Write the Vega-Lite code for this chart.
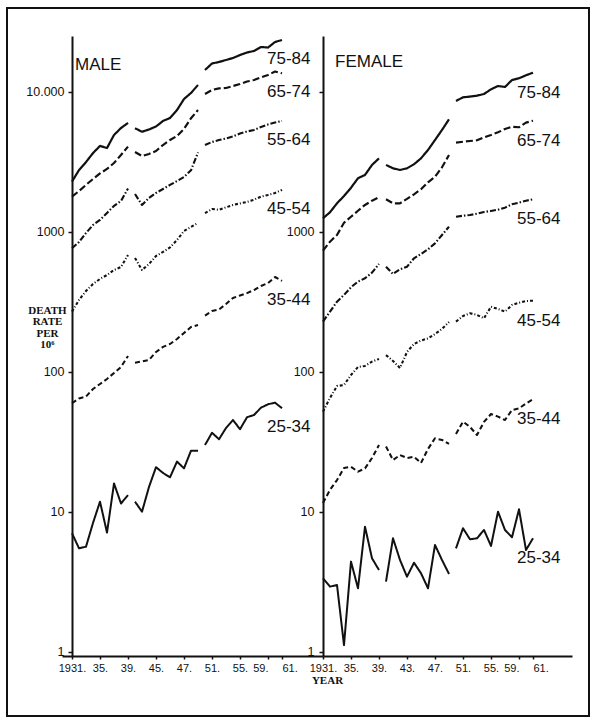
{
"$schema":"https://vega.github.io/schema/vega-lite/v6.json",
"padding":{"left":6,"top":7,"right":0,"bottom":0},
"autosize":{"type":"pad"},
"background":"white",
"spacing":0,
"bounds":"flush",
"config":{"view":{"stroke":null},"font":"Liberation Sans","axis":{"grid":false,"domainColor":"#111","domainWidth":2,"tickColor":"#111","tickWidth":1.5,"labelColor":"#111","labelFont":"Liberation Sans","titleColor":"#111"}},
"datasets":{"d":[
{"sex":"M","age":"75-84","year":1931,"per":1,"rate":2290},{"sex":"M","age":"75-84","year":1932,"per":1,"rate":2770},{"sex":"M","age":"75-84","year":1933,"per":1,"rate":3160},{"sex":"M","age":"75-84","year":1934,"per":1,"rate":3660},{"sex":"M","age":"75-84","year":1935,"per":1,"rate":4120},{"sex":"M","age":"75-84","year":1936,"per":1,"rate":3980},{"sex":"M","age":"75-84","year":1937,"per":1,"rate":4930},{"sex":"M","age":"75-84","year":1938,"per":1,"rate":5530},{"sex":"M","age":"75-84","year":1939,"per":1,"rate":6010},
{"sex":"M","age":"75-84","year":1940,"per":2,"rate":5510},{"sex":"M","age":"75-84","year":1941,"per":2,"rate":5200},{"sex":"M","age":"75-84","year":1942,"per":2,"rate":5400},{"sex":"M","age":"75-84","year":1943,"per":2,"rate":5670},{"sex":"M","age":"75-84","year":1944,"per":2,"rate":6210},{"sex":"M","age":"75-84","year":1945,"per":2,"rate":6520},{"sex":"M","age":"75-84","year":1946,"per":2,"rate":7430},{"sex":"M","age":"75-84","year":1947,"per":2,"rate":8910},{"sex":"M","age":"75-84","year":1948,"per":2,"rate":9840},{"sex":"M","age":"75-84","year":1949,"per":2,"rate":11220},
{"sex":"M","age":"75-84","year":1950,"per":3,"rate":14360},{"sex":"M","age":"75-84","year":1951,"per":3,"rate":15990},{"sex":"M","age":"75-84","year":1952,"per":3,"rate":16380},{"sex":"M","age":"75-84","year":1953,"per":3,"rate":16930},{"sex":"M","age":"75-84","year":1954,"per":3,"rate":17500},{"sex":"M","age":"75-84","year":1955,"per":3,"rate":18370},{"sex":"M","age":"75-84","year":1956,"per":3,"rate":19140},{"sex":"M","age":"75-84","year":1957,"per":3,"rate":19640},{"sex":"M","age":"75-84","year":1958,"per":3,"rate":20960},{"sex":"M","age":"75-84","year":1959,"per":3,"rate":20780},{"sex":"M","age":"75-84","year":1960,"per":3,"rate":22760},{"sex":"M","age":"75-84","year":1961,"per":3,"rate":23510},
{"sex":"M","age":"65-74","year":1931,"per":1,"rate":1790},{"sex":"M","age":"65-74","year":1932,"per":1,"rate":1960},{"sex":"M","age":"65-74","year":1933,"per":1,"rate":2170},{"sex":"M","age":"65-74","year":1934,"per":1,"rate":2390},{"sex":"M","age":"65-74","year":1935,"per":1,"rate":2620},{"sex":"M","age":"65-74","year":1936,"per":1,"rate":2820},{"sex":"M","age":"65-74","year":1937,"per":1,"rate":3110},{"sex":"M","age":"65-74","year":1938,"per":1,"rate":3550},{"sex":"M","age":"65-74","year":1939,"per":1,"rate":4070},
{"sex":"M","age":"65-74","year":1940,"per":2,"rate":3730},{"sex":"M","age":"65-74","year":1941,"per":2,"rate":3490},{"sex":"M","age":"65-74","year":1942,"per":2,"rate":3610},{"sex":"M","age":"65-74","year":1943,"per":2,"rate":3790},{"sex":"M","age":"65-74","year":1944,"per":2,"rate":4180},{"sex":"M","age":"65-74","year":1945,"per":2,"rate":4540},{"sex":"M","age":"65-74","year":1946,"per":2,"rate":4850},{"sex":"M","age":"65-74","year":1947,"per":2,"rate":5450},{"sex":"M","age":"65-74","year":1948,"per":2,"rate":6500},{"sex":"M","age":"65-74","year":1949,"per":2,"rate":7430},
{"sex":"M","age":"65-74","year":1950,"per":3,"rate":9680},{"sex":"M","age":"65-74","year":1951,"per":3,"rate":10330},{"sex":"M","age":"65-74","year":1952,"per":3,"rate":10620},{"sex":"M","age":"65-74","year":1953,"per":3,"rate":10680},{"sex":"M","age":"65-74","year":1954,"per":3,"rate":11040},{"sex":"M","age":"65-74","year":1955,"per":3,"rate":11400},{"sex":"M","age":"65-74","year":1956,"per":3,"rate":11880},{"sex":"M","age":"65-74","year":1957,"per":3,"rate":12180},{"sex":"M","age":"65-74","year":1958,"per":3,"rate":12700},{"sex":"M","age":"65-74","year":1959,"per":3,"rate":13220},{"sex":"M","age":"65-74","year":1960,"per":3,"rate":14010},{"sex":"M","age":"65-74","year":1961,"per":3,"rate":13610},
{"sex":"M","age":"55-64","year":1931,"per":1,"rate":765},{"sex":"M","age":"55-64","year":1932,"per":1,"rate":848},{"sex":"M","age":"55-64","year":1933,"per":1,"rate":984},{"sex":"M","age":"55-64","year":1934,"per":1,"rate":1122},{"sex":"M","age":"55-64","year":1935,"per":1,"rate":1219},{"sex":"M","age":"55-64","year":1936,"per":1,"rate":1368},{"sex":"M","age":"55-64","year":1937,"per":1,"rate":1535},{"sex":"M","age":"55-64","year":1938,"per":1,"rate":1664},{"sex":"M","age":"55-64","year":1939,"per":1,"rate":2046},
{"sex":"M","age":"55-64","year":1940,"per":2,"rate":1868},{"sex":"M","age":"55-64","year":1941,"per":2,"rate":1560},{"sex":"M","age":"55-64","year":1942,"per":2,"rate":1750},{"sex":"M","age":"55-64","year":1943,"per":2,"rate":1900},{"sex":"M","age":"55-64","year":1944,"per":2,"rate":2028},{"sex":"M","age":"55-64","year":1945,"per":2,"rate":2168},{"sex":"M","age":"55-64","year":1946,"per":2,"rate":2313},{"sex":"M","age":"55-64","year":1947,"per":2,"rate":2471},{"sex":"M","age":"55-64","year":1948,"per":2,"rate":2760},{"sex":"M","age":"55-64","year":1949,"per":2,"rate":3700},
{"sex":"M","age":"55-64","year":1950,"per":3,"rate":4180},{"sex":"M","age":"55-64","year":1951,"per":3,"rate":4395},{"sex":"M","age":"55-64","year":1952,"per":3,"rate":4539},{"sex":"M","age":"55-64","year":1953,"per":3,"rate":4656},{"sex":"M","age":"55-64","year":1954,"per":3,"rate":4810},{"sex":"M","age":"55-64","year":1955,"per":3,"rate":5054},{"sex":"M","age":"55-64","year":1956,"per":3,"rate":5226},{"sex":"M","age":"55-64","year":1957,"per":3,"rate":5354},{"sex":"M","age":"55-64","year":1958,"per":3,"rate":5623},{"sex":"M","age":"55-64","year":1959,"per":3,"rate":5861},{"sex":"M","age":"55-64","year":1960,"per":3,"rate":6053},{"sex":"M","age":"55-64","year":1961,"per":3,"rate":6209},
{"sex":"M","age":"45-54","year":1931,"per":1,"rate":270},{"sex":"M","age":"45-54","year":1932,"per":1,"rate":327},{"sex":"M","age":"45-54","year":1933,"per":1,"rate":379},{"sex":"M","age":"45-54","year":1934,"per":1,"rate":425},{"sex":"M","age":"45-54","year":1935,"per":1,"rate":462},{"sex":"M","age":"45-54","year":1936,"per":1,"rate":493},{"sex":"M","age":"45-54","year":1937,"per":1,"rate":535},{"sex":"M","age":"45-54","year":1938,"per":1,"rate":562},{"sex":"M","age":"45-54","year":1939,"per":1,"rate":685},
{"sex":"M","age":"45-54","year":1940,"per":2,"rate":652},{"sex":"M","age":"45-54","year":1941,"per":2,"rate":535},{"sex":"M","age":"45-54","year":1942,"per":2,"rate":591},{"sex":"M","age":"45-54","year":1943,"per":2,"rate":674},{"sex":"M","age":"45-54","year":1944,"per":2,"rate":720},{"sex":"M","age":"45-54","year":1945,"per":2,"rate":775},{"sex":"M","age":"45-54","year":1946,"per":2,"rate":877},{"sex":"M","age":"45-54","year":1947,"per":2,"rate":1016},{"sex":"M","age":"45-54","year":1948,"per":2,"rate":1086},{"sex":"M","age":"45-54","year":1949,"per":2,"rate":1159},
{"sex":"M","age":"45-54","year":1950,"per":3,"rate":1365},{"sex":"M","age":"45-54","year":1951,"per":3,"rate":1460},{"sex":"M","age":"45-54","year":1952,"per":3,"rate":1440},{"sex":"M","age":"45-54","year":1953,"per":3,"rate":1500},{"sex":"M","age":"45-54","year":1954,"per":3,"rate":1560},{"sex":"M","age":"45-54","year":1955,"per":3,"rate":1600},{"sex":"M","age":"45-54","year":1956,"per":3,"rate":1640},{"sex":"M","age":"45-54","year":1957,"per":3,"rate":1700},{"sex":"M","age":"45-54","year":1958,"per":3,"rate":1790},{"sex":"M","age":"45-54","year":1959,"per":3,"rate":1840},{"sex":"M","age":"45-54","year":1960,"per":3,"rate":1900},{"sex":"M","age":"45-54","year":1961,"per":3,"rate":2000},
{"sex":"M","age":"35-44","year":1931,"per":1,"rate":59.8},{"sex":"M","age":"35-44","year":1932,"per":1,"rate":64.7},{"sex":"M","age":"35-44","year":1933,"per":1,"rate":66.8},{"sex":"M","age":"35-44","year":1934,"per":1,"rate":75.6},{"sex":"M","age":"35-44","year":1935,"per":1,"rate":82.1},{"sex":"M","age":"35-44","year":1936,"per":1,"rate":89.1},{"sex":"M","age":"35-44","year":1937,"per":1,"rate":98.4},{"sex":"M","age":"35-44","year":1938,"per":1,"rate":108.6},{"sex":"M","age":"35-44","year":1939,"per":1,"rate":130},
{"sex":"M","age":"35-44","year":1940,"per":2,"rate":116.5},{"sex":"M","age":"35-44","year":1941,"per":2,"rate":118.8},{"sex":"M","age":"35-44","year":1942,"per":2,"rate":121.9},{"sex":"M","age":"35-44","year":1943,"per":2,"rate":139},{"sex":"M","age":"35-44","year":1944,"per":2,"rate":151},{"sex":"M","age":"35-44","year":1945,"per":2,"rate":158.5},{"sex":"M","age":"35-44","year":1946,"per":2,"rate":172},{"sex":"M","age":"35-44","year":1947,"per":2,"rate":190},{"sex":"M","age":"35-44","year":1948,"per":2,"rate":209.6},{"sex":"M","age":"35-44","year":1949,"per":2,"rate":216.6},
{"sex":"M","age":"35-44","year":1950,"per":3,"rate":253},{"sex":"M","age":"35-44","year":1951,"per":3,"rate":273},{"sex":"M","age":"35-44","year":1952,"per":3,"rate":279.5},{"sex":"M","age":"35-44","year":1953,"per":3,"rate":306},{"sex":"M","age":"35-44","year":1954,"per":3,"rate":338},{"sex":"M","age":"35-44","year":1955,"per":3,"rate":352},{"sex":"M","age":"35-44","year":1956,"per":3,"rate":366},{"sex":"M","age":"35-44","year":1957,"per":3,"rate":385},{"sex":"M","age":"35-44","year":1958,"per":3,"rate":411},{"sex":"M","age":"35-44","year":1959,"per":3,"rate":432},{"sex":"M","age":"35-44","year":1960,"per":3,"rate":477},{"sex":"M","age":"35-44","year":1961,"per":3,"rate":447},
{"sex":"M","age":"25-34","year":1931,"per":1,"rate":7.05},{"sex":"M","age":"25-34","year":1932,"per":1,"rate":5.5},{"sex":"M","age":"25-34","year":1933,"per":1,"rate":5.65},{"sex":"M","age":"25-34","year":1934,"per":1,"rate":8.35},{"sex":"M","age":"25-34","year":1935,"per":1,"rate":11.85},{"sex":"M","age":"25-34","year":1936,"per":1,"rate":7.12},{"sex":"M","age":"25-34","year":1937,"per":1,"rate":16.0},{"sex":"M","age":"25-34","year":1938,"per":1,"rate":11.5},{"sex":"M","age":"25-34","year":1939,"per":1,"rate":13.2},
{"sex":"M","age":"25-34","year":1940,"per":2,"rate":11.85},{"sex":"M","age":"25-34","year":1941,"per":2,"rate":10.05},{"sex":"M","age":"25-34","year":1942,"per":2,"rate":15.1},{"sex":"M","age":"25-34","year":1943,"per":2,"rate":20.9},{"sex":"M","age":"25-34","year":1944,"per":2,"rate":19.0},{"sex":"M","age":"25-34","year":1945,"per":2,"rate":17.7},{"sex":"M","age":"25-34","year":1946,"per":2,"rate":22.9},{"sex":"M","age":"25-34","year":1947,"per":2,"rate":20.5},{"sex":"M","age":"25-34","year":1948,"per":2,"rate":27.4},{"sex":"M","age":"25-34","year":1949,"per":2,"rate":27.4},
{"sex":"M","age":"25-34","year":1950,"per":3,"rate":30.1},{"sex":"M","age":"25-34","year":1951,"per":3,"rate":36.8},{"sex":"M","age":"25-34","year":1952,"per":3,"rate":33.1},{"sex":"M","age":"25-34","year":1953,"per":3,"rate":39.8},{"sex":"M","age":"25-34","year":1954,"per":3,"rate":45.4},{"sex":"M","age":"25-34","year":1955,"per":3,"rate":39.0},{"sex":"M","age":"25-34","year":1956,"per":3,"rate":47.5},{"sex":"M","age":"25-34","year":1957,"per":3,"rate":49.3},{"sex":"M","age":"25-34","year":1958,"per":3,"rate":55.6},{"sex":"M","age":"25-34","year":1959,"per":3,"rate":58.8},{"sex":"M","age":"25-34","year":1960,"per":3,"rate":60.4},{"sex":"M","age":"25-34","year":1961,"per":3,"rate":55.1},
{"sex":"F","age":"75-84","year":1931,"per":1,"rate":1253},{"sex":"F","age":"75-84","year":1932,"per":1,"rate":1383},{"sex":"F","age":"75-84","year":1933,"per":1,"rate":1603},{"sex":"F","age":"75-84","year":1934,"per":1,"rate":1807},{"sex":"F","age":"75-84","year":1935,"per":1,"rate":2070},{"sex":"F","age":"75-84","year":1936,"per":1,"rate":2421},{"sex":"F","age":"75-84","year":1937,"per":1,"rate":2555},{"sex":"F","age":"75-84","year":1938,"per":1,"rate":3013},{"sex":"F","age":"75-84","year":1939,"per":1,"rate":3358},
{"sex":"F","age":"75-84","year":1940,"per":2,"rate":3013},{"sex":"F","age":"75-84","year":1941,"per":2,"rate":2851},{"sex":"F","age":"75-84","year":1942,"per":2,"rate":2773},{"sex":"F","age":"75-84","year":1943,"per":2,"rate":2851},{"sex":"F","age":"75-84","year":1944,"per":2,"rate":3047},{"sex":"F","age":"75-84","year":1945,"per":2,"rate":3358},{"sex":"F","age":"75-84","year":1946,"per":2,"rate":3853},{"sex":"F","age":"75-84","year":1947,"per":2,"rate":4539},{"sex":"F","age":"75-84","year":1948,"per":2,"rate":5354},{"sex":"F","age":"75-84","year":1949,"per":2,"rate":6383},
{"sex":"F","age":"75-84","year":1950,"per":3,"rate":8630},{"sex":"F","age":"75-84","year":1951,"per":3,"rate":9165},{"sex":"F","age":"75-84","year":1952,"per":3,"rate":9270},{"sex":"F","age":"75-84","year":1953,"per":3,"rate":9415},{"sex":"F","age":"75-84","year":1954,"per":3,"rate":9680},{"sex":"F","age":"75-84","year":1955,"per":3,"rate":10450},{"sex":"F","age":"75-84","year":1956,"per":3,"rate":11040},{"sex":"F","age":"75-84","year":1957,"per":3,"rate":10860},{"sex":"F","age":"75-84","year":1958,"per":3,"rate":12180},{"sex":"F","age":"75-84","year":1959,"per":3,"rate":12530},{"sex":"F","age":"75-84","year":1960,"per":3,"rate":13160},{"sex":"F","age":"75-84","year":1961,"per":3,"rate":13740},
{"sex":"F","age":"65-74","year":1931,"per":1,"rate":735},{"sex":"F","age":"65-74","year":1932,"per":1,"rate":853},{"sex":"F","age":"65-74","year":1933,"per":1,"rate":952},{"sex":"F","age":"65-74","year":1934,"per":1,"rate":1164},{"sex":"F","age":"65-74","year":1935,"per":1,"rate":1285},{"sex":"F","age":"65-74","year":1936,"per":1,"rate":1419},{"sex":"F","age":"65-74","year":1937,"per":1,"rate":1560},{"sex":"F","age":"65-74","year":1938,"per":1,"rate":1674},{"sex":"F","age":"65-74","year":1939,"per":1,"rate":1770},
{"sex":"F","age":"65-74","year":1940,"per":2,"rate":1713},{"sex":"F","age":"65-74","year":1941,"per":2,"rate":1603},{"sex":"F","age":"65-74","year":1942,"per":2,"rate":1603},{"sex":"F","age":"65-74","year":1943,"per":2,"rate":1722},{"sex":"F","age":"65-74","year":1944,"per":2,"rate":1858},{"sex":"F","age":"65-74","year":1945,"per":2,"rate":2018},{"sex":"F","age":"65-74","year":1946,"per":2,"rate":2264},{"sex":"F","age":"65-74","year":1947,"per":2,"rate":2483},{"sex":"F","age":"65-74","year":1948,"per":2,"rate":2897},{"sex":"F","age":"65-74","year":1949,"per":2,"rate":3548},
{"sex":"F","age":"65-74","year":1950,"per":3,"rate":4345},{"sex":"F","age":"65-74","year":1951,"per":3,"rate":4416},{"sex":"F","age":"65-74","year":1952,"per":3,"rate":4467},{"sex":"F","age":"65-74","year":1953,"per":3,"rate":4519},{"sex":"F","age":"65-74","year":1954,"per":3,"rate":4746},{"sex":"F","age":"65-74","year":1955,"per":3,"rate":4931},{"sex":"F","age":"65-74","year":1956,"per":3,"rate":5152},{"sex":"F","age":"65-74","year":1957,"per":3,"rate":5445},{"sex":"F","age":"65-74","year":1958,"per":3,"rate":5649},{"sex":"F","age":"65-74","year":1959,"per":3,"rate":5596},{"sex":"F","age":"65-74","year":1960,"per":3,"rate":6040},{"sex":"F","age":"65-74","year":1961,"per":3,"rate":6237},
{"sex":"F","age":"55-64","year":1931,"per":1,"rate":229},{"sex":"F","age":"55-64","year":1932,"per":1,"rate":270},{"sex":"F","age":"55-64","year":1933,"per":1,"rate":318},{"sex":"F","age":"55-64","year":1934,"per":1,"rate":355},{"sex":"F","age":"55-64","year":1935,"per":1,"rate":403},{"sex":"F","age":"55-64","year":1936,"per":1,"rate":442},{"sex":"F","age":"55-64","year":1937,"per":1,"rate":467},{"sex":"F","age":"55-64","year":1938,"per":1,"rate":512},{"sex":"F","age":"55-64","year":1939,"per":1,"rate":591},
{"sex":"F","age":"55-64","year":1940,"per":2,"rate":565},{"sex":"F","age":"55-64","year":1941,"per":2,"rate":501},{"sex":"F","age":"55-64","year":1942,"per":2,"rate":542},{"sex":"F","age":"55-64","year":1943,"per":2,"rate":565},{"sex":"F","age":"55-64","year":1944,"per":2,"rate":649},{"sex":"F","age":"55-64","year":1945,"per":2,"rate":697},{"sex":"F","age":"55-64","year":1946,"per":2,"rate":752},{"sex":"F","age":"55-64","year":1947,"per":2,"rate":830},{"sex":"F","age":"55-64","year":1948,"per":2,"rate":952},{"sex":"F","age":"55-64","year":1949,"per":2,"rate":1091},
{"sex":"F","age":"55-64","year":1950,"per":3,"rate":1285},{"sex":"F","age":"55-64","year":1951,"per":3,"rate":1306},{"sex":"F","age":"55-64","year":1952,"per":3,"rate":1322},{"sex":"F","age":"55-64","year":1953,"per":3,"rate":1352},{"sex":"F","age":"55-64","year":1954,"per":3,"rate":1390},{"sex":"F","age":"55-64","year":1955,"per":3,"rate":1413},{"sex":"F","age":"55-64","year":1956,"per":3,"rate":1443},{"sex":"F","age":"55-64","year":1957,"per":3,"rate":1492},{"sex":"F","age":"55-64","year":1958,"per":3,"rate":1578},{"sex":"F","age":"55-64","year":1959,"per":3,"rate":1620},{"sex":"F","age":"55-64","year":1960,"per":3,"rate":1674},{"sex":"F","age":"55-64","year":1961,"per":3,"rate":1713},
{"sex":"F","age":"45-54","year":1931,"per":1,"rate":52.1},{"sex":"F","age":"45-54","year":1932,"per":1,"rate":65.2},{"sex":"F","age":"45-54","year":1933,"per":1,"rate":79.4},{"sex":"F","age":"45-54","year":1934,"per":1,"rate":80.7},{"sex":"F","age":"45-54","year":1935,"per":1,"rate":95.2},{"sex":"F","age":"45-54","year":1936,"per":1,"rate":108.6},{"sex":"F","age":"45-54","year":1937,"per":1,"rate":110.4},{"sex":"F","age":"45-54","year":1938,"per":1,"rate":118.6},{"sex":"F","age":"45-54","year":1939,"per":1,"rate":124},
{"sex":"F","age":"45-54","year":1940,"per":2,"rate":132},{"sex":"F","age":"45-54","year":1941,"per":2,"rate":119.9},{"sex":"F","age":"45-54","year":1942,"per":2,"rate":106.9},{"sex":"F","age":"45-54","year":1943,"per":2,"rate":139},{"sex":"F","age":"45-54","year":1944,"per":2,"rate":158.5},{"sex":"F","age":"45-54","year":1945,"per":2,"rate":168},{"sex":"F","age":"45-54","year":1946,"per":2,"rate":173.5},{"sex":"F","age":"45-54","year":1947,"per":2,"rate":186.8},{"sex":"F","age":"45-54","year":1948,"per":2,"rate":203},{"sex":"F","age":"45-54","year":1949,"per":2,"rate":227.6},
{"sex":"F","age":"45-54","year":1950,"per":3,"rate":228.8},{"sex":"F","age":"45-54","year":1951,"per":3,"rate":251},{"sex":"F","age":"45-54","year":1952,"per":3,"rate":262.6},{"sex":"F","age":"45-54","year":1953,"per":3,"rate":255.3},{"sex":"F","age":"45-54","year":1954,"per":3,"rate":242},{"sex":"F","age":"45-54","year":1955,"per":3,"rate":292.7},{"sex":"F","age":"45-54","year":1956,"per":3,"rate":281.8},{"sex":"F","age":"45-54","year":1957,"per":3,"rate":269.8},{"sex":"F","age":"45-54","year":1958,"per":3,"rate":301},{"sex":"F","age":"45-54","year":1959,"per":3,"rate":312.6},{"sex":"F","age":"45-54","year":1960,"per":3,"rate":321.4},{"sex":"F","age":"45-54","year":1961,"per":3,"rate":323},
{"sex":"F","age":"35-44","year":1931,"per":1,"rate":11.6},{"sex":"F","age":"35-44","year":1932,"per":1,"rate":14.4},{"sex":"F","age":"35-44","year":1933,"per":1,"rate":16.9},{"sex":"F","age":"35-44","year":1934,"per":1,"rate":20.6},{"sex":"F","age":"35-44","year":1935,"per":1,"rate":21},{"sex":"F","age":"35-44","year":1936,"per":1,"rate":19.4},{"sex":"F","age":"35-44","year":1937,"per":1,"rate":20.5},{"sex":"F","age":"35-44","year":1938,"per":1,"rate":24.3},{"sex":"F","age":"35-44","year":1939,"per":1,"rate":30.1},
{"sex":"F","age":"35-44","year":1940,"per":2,"rate":29.4},{"sex":"F","age":"35-44","year":1941,"per":2,"rate":23.5},{"sex":"F","age":"35-44","year":1942,"per":2,"rate":25.5},{"sex":"F","age":"35-44","year":1943,"per":2,"rate":24.3},{"sex":"F","age":"35-44","year":1944,"per":2,"rate":24.8},{"sex":"F","age":"35-44","year":1945,"per":2,"rate":22.4},{"sex":"F","age":"35-44","year":1946,"per":2,"rate":28.2},{"sex":"F","age":"35-44","year":1947,"per":2,"rate":33.6},{"sex":"F","age":"35-44","year":1948,"per":2,"rate":32.7},{"sex":"F","age":"35-44","year":1949,"per":2,"rate":30.6},
{"sex":"F","age":"35-44","year":1950,"per":3,"rate":36.1},{"sex":"F","age":"35-44","year":1951,"per":3,"rate":44.2},{"sex":"F","age":"35-44","year":1952,"per":3,"rate":40.5},{"sex":"F","age":"35-44","year":1953,"per":3,"rate":35.5},{"sex":"F","age":"35-44","year":1954,"per":3,"rate":44},{"sex":"F","age":"35-44","year":1955,"per":3,"rate":50.1},{"sex":"F","age":"35-44","year":1956,"per":3,"rate":48},{"sex":"F","age":"35-44","year":1957,"per":3,"rate":45.4},{"sex":"F","age":"35-44","year":1958,"per":3,"rate":53.5},{"sex":"F","age":"35-44","year":1959,"per":3,"rate":54.9},{"sex":"F","age":"35-44","year":1960,"per":3,"rate":59.6},{"sex":"F","age":"35-44","year":1961,"per":3,"rate":63.8},
{"sex":"F","age":"25-34","year":1931,"per":1,"rate":3.36},{"sex":"F","age":"25-34","year":1932,"per":1,"rate":2.93},{"sex":"F","age":"25-34","year":1933,"per":1,"rate":3.01},{"sex":"F","age":"25-34","year":1934,"per":1,"rate":1.12},{"sex":"F","age":"25-34","year":1935,"per":1,"rate":4.42},{"sex":"F","age":"25-34","year":1936,"per":1,"rate":2.85},{"sex":"F","age":"25-34","year":1937,"per":1,"rate":7.85},{"sex":"F","age":"25-34","year":1938,"per":1,"rate":4.67},{"sex":"F","age":"25-34","year":1939,"per":1,"rate":3.85},
{"sex":"F","age":"25-34","year":1940,"per":2,"rate":3.18},{"sex":"F","age":"25-34","year":1941,"per":2,"rate":6.49},{"sex":"F","age":"25-34","year":1942,"per":2,"rate":4.54},{"sex":"F","age":"25-34","year":1943,"per":2,"rate":3.45},{"sex":"F","age":"25-34","year":1944,"per":2,"rate":4.34},{"sex":"F","age":"25-34","year":1945,"per":2,"rate":3.65},{"sex":"F","age":"25-34","year":1946,"per":2,"rate":2.85},{"sex":"F","age":"25-34","year":1947,"per":2,"rate":5.81},{"sex":"F","age":"25-34","year":1948,"per":2,"rate":4.54},{"sex":"F","age":"25-34","year":1949,"per":2,"rate":3.61},
{"sex":"F","age":"25-34","year":1950,"per":3,"rate":5.5},{"sex":"F","age":"25-34","year":1951,"per":3,"rate":7.65},{"sex":"F","age":"25-34","year":1952,"per":3,"rate":6.38},{"sex":"F","age":"25-34","year":1953,"per":3,"rate":6.49},{"sex":"F","age":"25-34","year":1954,"per":3,"rate":7.44},{"sex":"F","age":"25-34","year":1955,"per":3,"rate":5.72},{"sex":"F","age":"25-34","year":1956,"per":3,"rate":10.05},{"sex":"F","age":"25-34","year":1957,"per":3,"rate":7.44},{"sex":"F","age":"25-34","year":1958,"per":3,"rate":6.6},{"sex":"F","age":"25-34","year":1959,"per":3,"rate":10.45},{"sex":"F","age":"25-34","year":1960,"per":3,"rate":5.35},{"sex":"F","age":"25-34","year":1961,"per":3,"rate":6.49}
]},
"hconcat":[
{
"width":261,"height":620,
"title":{"text":"MALE","anchor":"start","frame":"group","orient":"top","offset":-80,"dx":13,"baseline":"alphabetic","fontSize":17,"fontWeight":"normal","font":"Liberation Sans","color":"#111"},
"data":{"name":"d"},
"transform":[{"filter":"datum.sex == 'M'"}],
"layer":[
{"data":{"values":[{}]},
 "mark":{"type":"rect","fillOpacity":0,"stroke":"#111","strokeWidth":2,"clip":false},
 "encoding":{"x":{"datum":1921.714,"type":"quantitative"},"x2":{"datum":2004.857},"y":{"datum":39811,"type":"quantitative"},"y2":{"datum":0.349}}},
{"mark":{"type":"line","color":"#111","strokeJoin":"round","strokeCap":"butt"},
 "encoding":{
  "x":{"field":"year","type":"quantitative","scale":{"domain":[1929.571,1966.857],"nice":false,"zero":false},
       "axis":{"values":[1931,1935,1939,1943,1947,1951,1955,1959,1961],"tickCount":40,"labelExpr":"datum.value == 1931 ? '1931.' : (datum.value == 1943 ? '45.' : substring(toString(datum.value), 2, 4) + '.')","title":null,"tickSize":3,"labelPadding":3,"labelFontSize":11,"labelOverlap":false,"labelFlush":false,
               "labelAlign":{"condition":[{"test":"datum.value == 1959","value":"right"},{"test":"datum.value == 1961","value":"left"}],"value":"center"}}},
  "y":{"field":"rate","type":"quantitative","scale":{"type":"log","domain":[0.936,25119],"nice":false},
       "axis":{"values":[1,10,100,1000,10000],"tickCount":40,"labelExpr":"datum.value == 10000 ? '10.000' : toString(datum.value)","offset":-10,"tickSize":4,"labelPadding":4,"labelFontSize":12.5,"labelOverlap":false,"labelFlush":false,
               "title":["DEATH","RATE","PER","10⁶"],"titleAngle":0,"titleFont":"Liberation Serif","titleFontWeight":"bold","titleFontSize":11,"titleLineHeight":11.5,"titleAlign":"center","titleBaseline":"top","titleX":-25,"titleY":268}},
  "strokeDash":{"field":"age","type":"nominal","scale":{"domain":["75-84","65-74","55-64","45-54","35-44","25-34"],"range":[[1,0],[7,3],[6,2,1.5,2],[3,2,1,2],[5,3],[1,0]]},"legend":null},
  "strokeWidth":{"field":"age","type":"nominal","scale":{"domain":["75-84","65-74","55-64","45-54","35-44","25-34"],"range":[2.2,2,1.5,1.5,1.5,2.2]},"legend":null},
  "detail":{"field":"per"}
 }},
{"transform":[{"filter":"datum.year == 1961"}],
 "mark":{"type":"text","align":"left","baseline":"middle","dx":-15,"dy":19,"fontSize":17,"font":"Liberation Sans","color":"#111"},
 "encoding":{"x":{"field":"year","type":"quantitative"},"y":{"field":"rate","type":"quantitative"},"text":{"field":"age"}}}
]
},
{
"width":249,"height":620,
"title":{"text":"FEMALE","anchor":"start","frame":"group","orient":"top","offset":-48,"dx":12,"baseline":"alphabetic","fontSize":17,"fontWeight":"normal","font":"Liberation Sans","color":"#111"},
"data":{"name":"d"},
"transform":[{"filter":"datum.sex == 'F'"}],
"layer":[
{"mark":{"type":"line","color":"#111","strokeJoin":"round","strokeCap":"butt"},
 "encoding":{
  "x":{"field":"year","type":"quantitative","scale":{"domain":[1931,1966.571],"nice":false,"zero":false},
       "axis":{"values":[1931,1935,1939,1943,1947,1951,1955,1959,1961],"tickCount":40,"labelExpr":"datum.value == 1931 ? '1931.' : substring(toString(datum.value), 2, 4) + '.'","tickSize":3,"labelPadding":3,"labelFontSize":11,"labelOverlap":false,"labelFlush":false,
               "labelAlign":{"condition":[{"test":"datum.value == 1959","value":"right"},{"test":"datum.value == 1961","value":"left"}],"value":"center"},
               "title":"YEAR","titleFont":"Liberation Serif","titleFontWeight":"bold","titleFontSize":11,"titleAlign":"center","titleBaseline":"middle","titleX":4,"titleY":24}},
  "y":{"field":"rate","type":"quantitative","scale":{"type":"log","domain":[0.936,25119],"nice":false},
       "axis":{"values":[1,10,100,1000,10000],"tickCount":40,"labelExpr":"datum.value == 10000 ? '' : toString(datum.value)","tickSize":4,"labelPadding":5,"labelFontSize":12.5,"labelOverlap":false,"labelFlush":false,"title":null}},
  "strokeDash":{"field":"age","type":"nominal","scale":{"domain":["75-84","65-74","55-64","45-54","35-44","25-34"],"range":[[1,0],[7,4],[5,2,1,2],[1.5,1.5],[6,4],[1,0]]},"legend":null},
  "strokeWidth":{"field":"age","type":"nominal","scale":{"domain":["75-84","65-74","55-64","45-54","35-44","25-34"],"range":[2,2,1.3,1.3,1.6,2]},"legend":null},
  "detail":{"field":"per"}
 }},
{"transform":[{"filter":"datum.year == 1961"}],
 "mark":{"type":"text","align":"left","baseline":"middle","dx":-16,"dy":20,"fontSize":17,"font":"Liberation Sans","color":"#111"},
 "encoding":{"x":{"field":"year","type":"quantitative"},"y":{"field":"rate","type":"quantitative"},"text":{"field":"age"}}}
]
}
]
}
